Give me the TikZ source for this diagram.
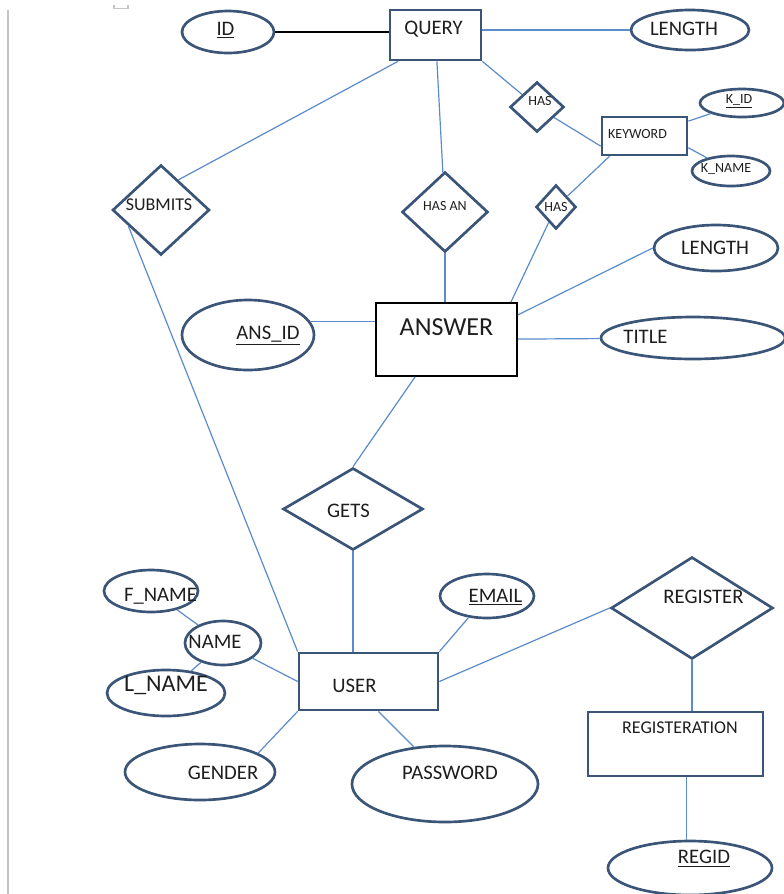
\documentclass[tikz,border=0pt]{standalone}
\usepackage{fontspec}
\setmainfont{Carlito}
\usetikzlibrary{shapes.geometric,calc}

\definecolor{outline}{HTML}{3A5577}
\definecolor{linkblue}{HTML}{5B8BCB}
\definecolor{ink}{HTML}{1E1E1E}
\definecolor{pagegray}{HTML}{C4C4C4}

\tikzset{
  x=0.75pt, y=-0.75pt,
  sz/.style 2 args={minimum width=#1*0.75pt, minimum height=#2*0.75pt},
  base/.style={draw=outline, line width=2pt, inner sep=0pt},
  entity/.style={base, rectangle},
  attr/.style={base, ellipse},
  rel/.style={base, diamond},
  tag/.style={text=ink, inner sep=0pt, font=\fontsize{15.5}{18}\selectfont},
  small/.style={font=\fontsize{10.5}{12}\selectfont},
  conn/.style={draw=linkblue, line width=0.9pt},
  blackconn/.style={draw=black, line width=1.1pt},
}

\begin{document}
\begin{tikzpicture}
\path[use as bounding box] (0,0) rectangle (784,894);
\clip (0,0) rectangle (784,894);

% page edge and corner mark
\draw[pagegray, line width=1.1pt] (8,10) -- (8,894);
\draw[pagegray, line width=0.9pt] (114,5) -- (114,8.5) -- (128,8.5) -- (128,5);

% ---------- QUERY cluster ----------
\node[entity, sz={91}{50}, label={[tag, shift={(-2,-6)}]center:QUERY}] (query) at (435.5,35) {};
\node[attr, sz={92}{42}, label={[tag, shift={(-2.5,-2)}]center:\underline{ID}}] (id) at (228,32) {};
\node[attr, sz={118}{40}, label={[tag, shift={(-6,-1)}]center:LENGTH}] (qlength) at (690,30) {};
\node[rel, sz={54}{50}, label={[tag, small, shift={(3,-6)}]center:HAS}] (hasA) at (537,107) {};
\node[entity, sz={85}{38}, label={[tag, small, shift={(-7,-2.5)}]center:KEYWORD}] (keyword) at (644.5,136) {};
\node[attr, sz={84}{28}, label={[tag, small, shift={(-3,-2)}]center:\underline{K\_ID}}] (kid) at (742,103) {};
\node[attr, sz={78}{30}, label={[tag, small, shift={(-5,-2)}]center:K\_NAME}] (kname) at (731,171) {};
\node[rel, sz={40}{44}, label={[tag, small]center:HAS}] (hasB) at (556,207) {};
\node[rel, sz={97}{90}, label={[tag, font=\fontsize{13.5}{16}\selectfont, shift={(-2,-5)}]center:SUBMITS}] (submits) at (161,210) {};
\node[rel, sz={86}{80}, label={[tag, small, shift={(0,-6)}]center:HAS AN}] (hasan) at (445,212) {};

% ---------- ANSWER cluster ----------
\node[rectangle, draw=black, line width=1.4pt, inner sep=0pt, sz={141}{73},
      label={[tag, font=\fontsize{19.5}{22}\selectfont, shift={(0,-12.5)}]center:ANSWER}] (answer) at (446.5,339.5) {};
\node[attr, sz={132}{70}, label={[tag, shift={(20,1)}]center:\underline{ANS\_ID}}] (ansid) at (248,335) {};
\node[attr, sz={124}{46}, label={[tag, shift={(-1,0)}]center:LENGTH}] (alength) at (716,248) {};
\node[attr, sz={184}{42}, label={[tag, shift={(-47.5,-1)}]center:TITLE}] (title) at (693,338) {};
\node[rel, sz={140}{82}, label={[tag, shift={(-4.5,1.5)}]center:GETS}] (gets) at (353,509) {};

% ---------- USER cluster ----------
\node[entity, sz={139}{57}, label={[tag, shift={(-14,4)}]center:USER}] (user) at (368.5,681.5) {};
\node[attr, sz={94}{42}, label={[tag, shift={(9.5,5)}]center:F\_NAME}] (fname) at (151,591) {};
\node[attr, sz={76}{44}, label={[tag, shift={(-8,-1)}]center:NAME}] (name) at (223,643) {};
\node[attr, sz={118}{46}, label={[tag, font=\fontsize{18}{21}\selectfont, shift={(0,-8)}]center:L\_NAME}] (lname) at (166,693) {};
\node[attr, sz={94}{44}, label={[tag, shift={(8.5,1.5)}]center:\underline{EMAIL}}] (email) at (487,596) {};
\node[attr, sz={150}{56}, label={[tag, shift={(23,0.5)}]center:GENDER}] (gender) at (200,772) {};
\node[attr, sz={186}{76}, label={[tag, shift={(5,-11.5)}]center:PASSWORD}] (password) at (445,784) {};

% ---------- REGISTER cluster ----------
\node[rel, sz={162}{102}, label={[tag, shift={(11.5,-11)}]center:REGISTER}] (register) at (692,608) {};
\node[entity, sz={175}{64}, label={[tag, font=\fontsize{13.5}{16}\selectfont, shift={(4.5,-16.5)}]center:REGISTERATION}] (regn) at (675.5,744) {};
\node[attr, sz={164}{54}, label={[tag, shift={(14,-9.5)}]center:\underline{REGID}}] (regid) at (690,868) {};

% ---------- connectors ----------
\draw[blackconn] (id) -- (id.east -| query.west);
\draw[conn] (qlength.west -| query.east) -- (qlength.west);
\draw[conn] (query.south east) -- (hasA);
\draw[conn] (hasA) -- (keyword.193);
\draw[conn] (keyword) -- (kid);
\draw[conn] (keyword.-15) -- (kname);
\draw[conn] ($(keyword.south west)!0.1!(keyword.south east)$) -- (hasB);
\draw[conn] (hasB) -- ($(answer.north east)+(-7,0)$);
\draw[conn] ($(query.south west)!0.1!(query.south east)$) -- (submits.60);
\draw[conn] (query) -- (hasan);
\draw[conn] (hasan.south) -- (hasan.south |- answer.north);
\draw[conn] (ansid.12) -- (ansid.12 -| answer.west);
\draw[conn] (answer.19) -- (alength.west);
\draw[conn] (answer) -- (title);
\draw[conn] (submits.206) -- (user.north west);
\draw[conn] ($(answer.south west)!0.28!(answer.south east)$) -- (gets.north);
\draw[conn] (gets.south) -- (gets.south |- user.north);
\draw[conn] (fname) -- (name);
\draw[conn] (name) -- (lname);
\draw[conn] (name) -- (user.west);
\draw[conn] (email) -- (user.north east);
\draw[conn] (user.east) -- (register.west);
\draw[conn] (register.south) -- (register.south |- regn.north);
\draw[conn] ($(regn.south west)!0.56!(regn.south east)$) coordinate (regfoot) -- (regfoot |- regid.north);
\draw[conn] (user.south west) -- (gender.18);
\draw[conn] ($(user.south west)!0.57!(user.south east)$) -- (password.130);
\end{tikzpicture}
\end{document}
